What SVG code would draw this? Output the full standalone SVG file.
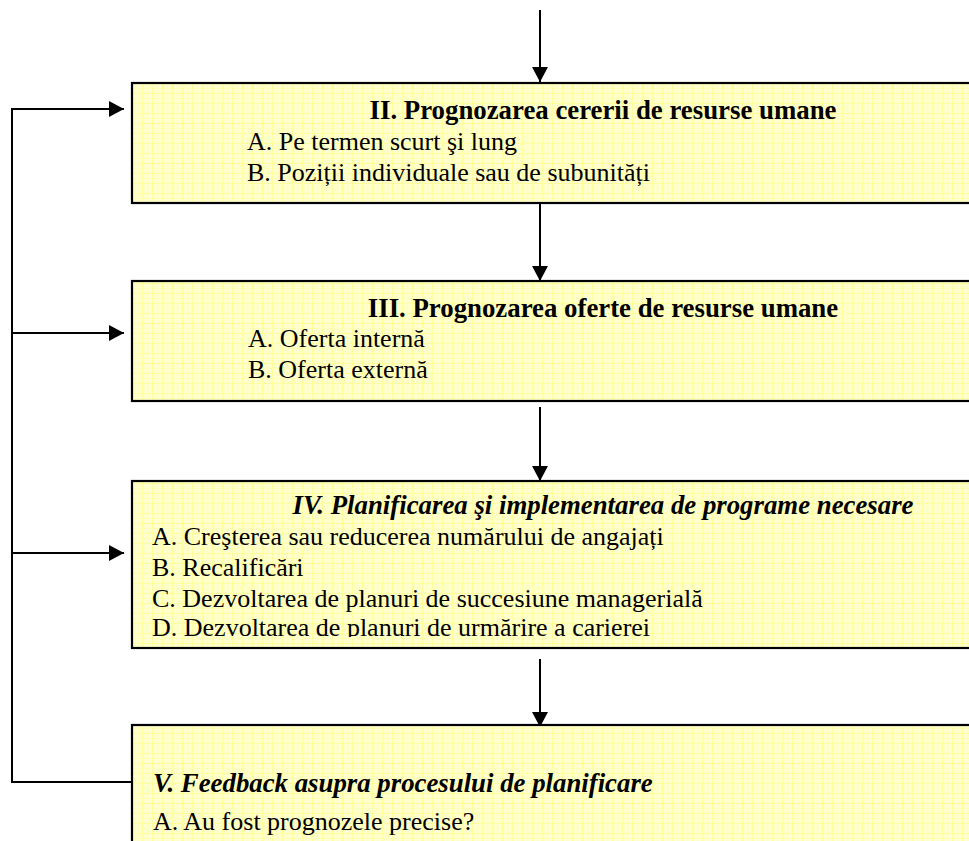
<svg xmlns="http://www.w3.org/2000/svg" width="969" height="841" viewBox="0 0 969 841">
<style>
.box{fill:url(#grid);stroke:#000;stroke-width:2.2}
.t{font-family:"Liberation Serif","Times New Roman",serif;font-size:26px;fill:#000}
.b{font-weight:bold;font-size:26.8px}
.i{font-style:italic}
.m{text-anchor:middle}
.c{fill:none;stroke:#000;stroke-width:2}
</style>
<defs>
<pattern id="grid" patternUnits="userSpaceOnUse" width="10" height="10" x="132" y="83">
<rect width="10" height="10" fill="#FFFFCE"/>
<path d="M0 0.5H10M0.5 0V10" stroke="#FFFF9E" stroke-width="1"/>
<path d="M0 5.5H10M5.5 0V10" stroke="#FFFFB6" stroke-width="1"/>
</pattern>
<marker id="ah" markerUnits="userSpaceOnUse" markerWidth="16" markerHeight="16" refX="15" refY="8" orient="auto">
<path d="M0 0L15 8L0 16Z" fill="#000"/>
</marker>
<clipPath id="clip4"><rect x="132" y="482" width="850" height="155"/></clipPath>
</defs>

<g id="connectors">
<line class="c" x1="540" y1="10" x2="540" y2="82" marker-end="url(#ah)"/>
<line class="c" x1="540" y1="203" x2="540" y2="281" marker-end="url(#ah)"/>
<line class="c" x1="540" y1="407" x2="540" y2="481" marker-end="url(#ah)"/>
<line class="c" x1="540" y1="659" x2="540" y2="727" marker-end="url(#ah)"/>
<polyline class="c" points="132,782 12,782 12,109"/>
<line class="c" x1="11" y1="109" x2="124" y2="109" marker-end="url(#ah)"/>
<line class="c" x1="12" y1="333" x2="124" y2="333" marker-end="url(#ah)"/>
<line class="c" x1="12" y1="553" x2="124" y2="553" marker-end="url(#ah)"/>
</g>

<g id="box2">
<rect class="box" x="132" y="83" width="860" height="120"/>
<text class="t b m" x="603" y="119">II. Prognozarea cererii de resurse umane</text>
<text class="t" x="247" y="150">A. Pe termen scurt şi lung</text>
<text class="t" x="247" y="181">B. Poziții individuale sau de subunități</text>
</g>

<g id="box3">
<rect class="box" x="132" y="281" width="860" height="120"/>
<text class="t b m" x="603" y="317">III. Prognozarea oferte de resurse umane</text>
<text class="t" x="248" y="347">A. Oferta internă</text>
<text class="t" x="248" y="378">B. Oferta externă</text>
</g>

<g id="box4">
<rect class="box" x="132" y="481" width="860" height="167"/>
<text class="t b i m" x="603" y="514">IV. Planificarea şi implementarea de programe necesare</text>
<g clip-path="url(#clip4)">
<text class="t" x="152" y="545">A. Creşterea sau reducerea numărului de angajați</text>
<text class="t" x="152" y="576">B. Recalificări</text>
<text class="t" x="152" y="607">C. Dezvoltarea de planuri de succesiune managerială</text>
<text class="t" x="152" y="636">D. Dezvoltarea de planuri de urmărire a carierei</text>
</g>
</g>

<g id="box5">
<rect class="box" x="132" y="725" width="860" height="140"/>
<text class="t b i" x="153" y="792">V. Feedback asupra procesului de planificare</text>
<text class="t" x="153" y="830">A. Au fost prognozele precise?</text>
</g>
</svg>
